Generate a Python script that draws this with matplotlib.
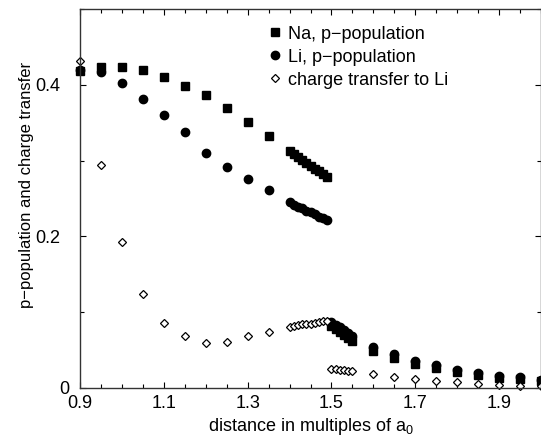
import matplotlib
matplotlib.use("Agg")
import matplotlib.pyplot as plt
import matplotlib.transforms as mtransforms
from matplotlib.ticker import FixedLocator, MultipleLocator, FuncFormatter

plt.rcParams['font.family'] = ['Liberation Sans', 'DejaVu Sans']
plt.rcParams['mathtext.fontset'] = 'custom'
plt.rcParams['mathtext.rm'] = 'Liberation Sans'

# Data (distance in a0)
x_coarse = [0.90, 0.95, 1.00, 1.05, 1.10, 1.15, 1.20, 1.25, 1.30, 1.35]
x_dense_hi = [1.40, 1.41, 1.42, 1.43, 1.44, 1.45, 1.46, 1.47, 1.48, 1.49]
x_dense_lo = [1.50, 1.51, 1.52, 1.53, 1.54, 1.55]
x_tail = [1.60, 1.65, 1.70, 1.75, 1.80, 1.85, 1.90, 1.95, 2.00]

na_coarse = [0.418, 0.423, 0.423, 0.419, 0.410, 0.398, 0.386, 0.370, 0.351, 0.332]
na_dense_hi = [0.313, 0.309, 0.305, 0.301, 0.297, 0.293, 0.289, 0.286, 0.282, 0.278]
na_dense_lo = [0.082, 0.078, 0.074, 0.070, 0.066, 0.062]
na_tail = [0.049, 0.040, 0.032, 0.026, 0.0215, 0.017, 0.0136, 0.012, 0.009]

li_coarse = [0.419, 0.417, 0.402, 0.381, 0.360, 0.338, 0.310, 0.292, 0.276, 0.261]
li_dense_hi = [0.245, 0.242, 0.239, 0.237, 0.234, 0.232, 0.229, 0.226, 0.224, 0.221]
li_dense_lo = [0.087, 0.083, 0.080, 0.076, 0.072, 0.069]
li_tail = [0.054, 0.045, 0.036, 0.030, 0.024, 0.020, 0.016, 0.014, 0.011]

ct_coarse = [0.432, 0.294, 0.192, 0.124, 0.086, 0.068, 0.060, 0.061, 0.068, 0.074]
ct_dense_hi = [0.081, 0.082, 0.083, 0.084, 0.085, 0.085, 0.086, 0.087, 0.088, 0.088]
ct_dense_lo = [0.025, 0.0245, 0.024, 0.0235, 0.023, 0.0225]
ct_tail = [0.0185, 0.014, 0.0115, 0.0093, 0.0075, 0.0057, 0.0036, 0.0026, 0.002]

x_all = x_coarse + x_dense_hi + x_dense_lo + x_tail
na_all = na_coarse + na_dense_hi + na_dense_lo + na_tail
li_all = li_coarse + li_dense_hi + li_dense_lo + li_tail
ct_all = ct_coarse + ct_dense_hi + ct_dense_lo + ct_tail

fig = plt.figure(figsize=(5.41, 4.38), dpi=100)
ax = fig.add_axes([80 / 541, 50 / 438, 461 / 541, 379 / 438])

ax.plot(x_all, na_all, 's', color='black', markersize=5.5, label='Na, p\u2212population', clip_on=False)
ax.plot(x_all, li_all, 'o', color='black', markersize=6, label='Li, p\u2212population', clip_on=False)
ax.plot(x_all, ct_all, 'D', markerfacecolor='white', markeredgecolor='black', markeredgewidth=0.9,
        markersize=4.2, label='charge transfer to Li', clip_on=False)

ax.set_xlim(0.9, 2.0)
ax.set_ylim(0, 0.5)
ax.xaxis.set_major_locator(FixedLocator([0.9, 1.1, 1.3, 1.5, 1.7, 1.9]))
ax.xaxis.set_minor_locator(MultipleLocator(0.05))
ax.yaxis.set_major_locator(FixedLocator([0, 0.2, 0.4]))
ax.yaxis.set_minor_locator(MultipleLocator(0.1))
ax.yaxis.set_major_formatter(FuncFormatter(lambda v, p: '%g' % round(v, 2)))
ax.xaxis.set_major_formatter(FuncFormatter(lambda v, p: '%.1f' % v))
ax.tick_params(which='both', direction='in', top=True, right=True, labelsize=13, width=0.8)
ax.tick_params(which='major', length=4)
ax.tick_params(which='minor', length=3)
ax.tick_params(axis='x', pad=5)
ax.tick_params(axis='y', pad=14)
for s in ax.spines.values():
    s.set_linewidth(1.0)
    s.set_color('#333333')

# the "0" label sits closer to the axis in the reference
zero_lbl = ax.yaxis.get_major_ticks()[0].label1
zero_lbl.set_transform(zero_lbl.get_transform() +
                       mtransforms.ScaledTranslation(6 / 72, 0, fig.dpi_scale_trans))

ax.set_xlabel('distance in multiples of a$_0$', fontsize=13, labelpad=3)
ax.set_ylabel('p\u2212population and charge transfer', fontsize=12)
ax.yaxis.set_label_coords(-0.1, 0.535)

ax.legend(loc='upper left', bbox_to_anchor=(0.388, 0.975), frameon=False, fontsize=13,
          handletextpad=0.2, labelspacing=0.33, handlelength=1.0, borderaxespad=0)

fig.savefig('out.png', dpi=100)
